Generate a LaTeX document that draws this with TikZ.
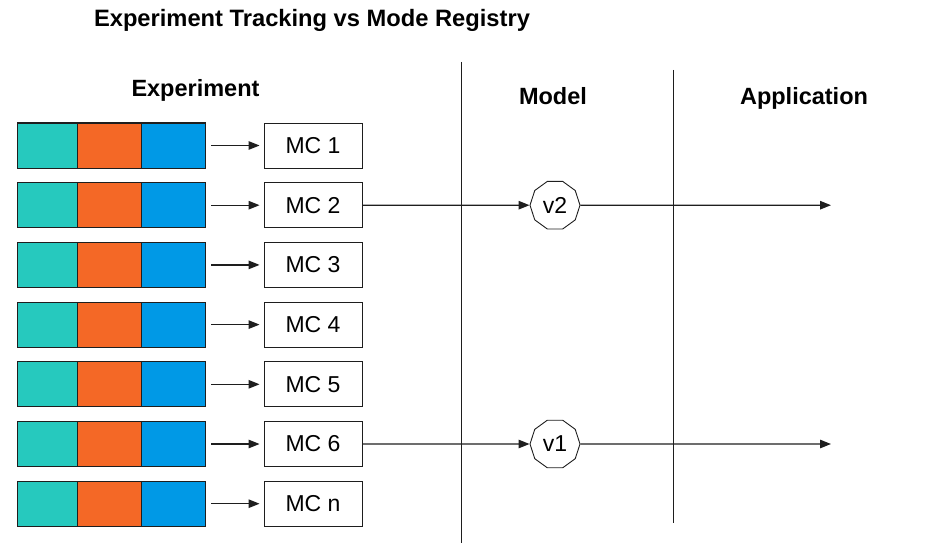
\documentclass[tikz,border=0pt]{standalone}
\usepackage{fontspec}
\setmainfont{Liberation Sans}
\usetikzlibrary{shapes.geometric,arrows.meta}
\definecolor{cteal}{RGB}{38,201,190}
\definecolor{corange}{RGB}{244,104,38}
\definecolor{cblue}{RGB}{0,153,230}
\definecolor{cline}{RGB}{30,30,30}
\tikzset{
  seg/.style={draw=cline, line width=1pt, minimum height=45pt, inner sep=0pt, anchor=west},
  mcbox/.style={draw=cline, line width=0.9pt, fill=white, minimum width=98pt, minimum height=45pt, inner sep=0pt, font=\fontsize{23}{26}\selectfont},
  ver/.style={draw=cline, line width=0.9pt, regular polygon, regular polygon sides=10, minimum size=50pt, inner sep=0pt, font=\fontsize{23}{26}\selectfont},
  conn/.style={draw=cline, line width=1.2pt, -{Triangle[length=11pt,width=8.5pt]}},
  divider/.style={draw=cline, line width=1.1pt},
  hdr/.style={font=\bfseries\fontsize{23.5}{26}\selectfont, anchor=base, inner sep=0pt}
}
\begin{document}
\begin{tikzpicture}[x=1pt,y=-1pt]
\useasboundingbox (0,0) rectangle (938,543);
\node[hdr, font=\bfseries\fontsize{23.7}{27}\selectfont] (title) at (312,27) {Experiment Tracking vs Mode Registry};
\node[hdr] (hexp) at (195.5,96) {Experiment};
\node[hdr] (hmod) at (553,105) {Model};
\node[hdr] (happ) at (804,105) {Application};
\coordinate (d1t) at (461.5,62);
\coordinate (d1b) at (461.5,543);
\coordinate (d2t) at (673.5,70);
\coordinate (d2b) at (673.5,523);
\draw[divider] (d1t) -- (d1b);
\draw[divider] (d2t) -- (d2b);
\foreach \i/\lab in {0/1,1/2,2/3,3/4,4/5,5/6,6/n}{
  \pgfmathsetmacro{\cy}{145.5+59.7*\i}
  \node[seg, fill=cteal, minimum width=60pt] (t\i) at (17,\cy) {};
  \node[seg, fill=corange, minimum width=64pt] (o\i) at (77,\cy) {};
  \node[seg, fill=cblue, minimum width=64pt] (b\i) at (141,\cy) {};
  \node[mcbox] (mc\i) at (313,\cy) {MC \lab};
  \draw[conn] ([xshift=5pt]b\i.east) -- ([xshift=-4pt]mc\i.west);
}
\node[ver] (v2) at (555,205.2) {v2};
\node[ver] (v1) at (555,444) {v1};
\coordinate (e2) at (831,205.2);
\coordinate (e1) at (831,444);
\draw[conn] (mc1.east) -- (v2.west);
\draw[conn] (v2.east) -- (e2);
\draw[conn] (mc5.east) -- (v1.west);
\draw[conn] (v1.east) -- (e1);
\end{tikzpicture}
\end{document}
